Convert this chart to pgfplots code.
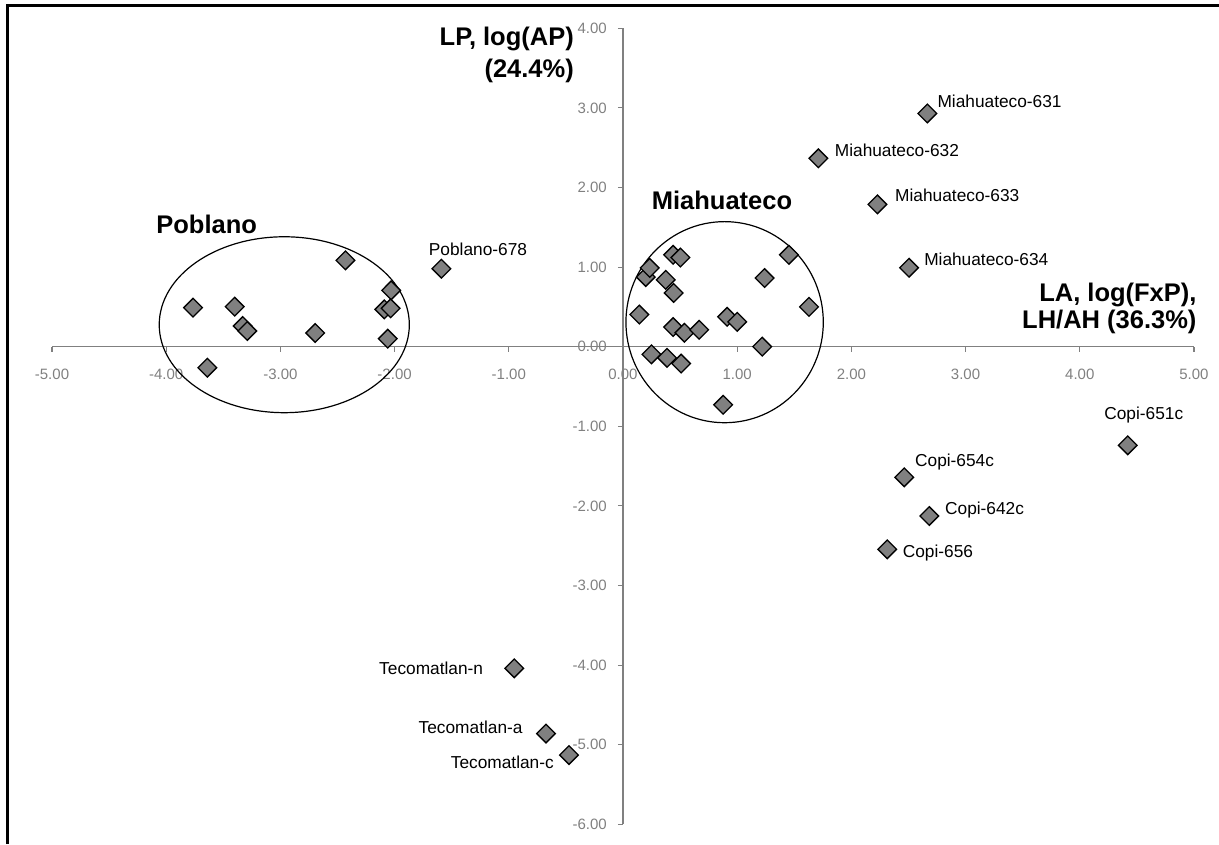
\documentclass[border=0pt]{standalone}
\usepackage{pgfplots}
\pgfplotsset{compat=1.18}
\usepackage{fontspec}
\setmainfont{Liberation Sans}
\definecolor{axisgray}{RGB}{128,128,128}
\definecolor{ticklab}{RGB}{128,128,128}
\definecolor{markgray}{RGB}{128,128,128}
\tikzset{lab/.style={font=\fontsize{17.3}{20}\selectfont, inner sep=0pt, text=black},
  big/.style={font=\bfseries\fontsize{25.5}{30}\selectfont, inner sep=0pt, text=black}}
\begin{document}
\begin{tikzpicture}
\path[use as bounding box] (0pt,0pt) rectangle (1219pt,844pt);
\draw[line width=2.6pt, black] (7.5pt,0pt) -- (7.5pt,838.5pt) -- (1219pt,838.5pt);
\begin{axis}[
  at={(52pt,19.7pt)}, anchor=south west,
  scale only axis, width=1142pt, height=796pt,
  xmin=-5, xmax=5, ymin=-6, ymax=4,
  enlargelimits=false, clip=false,
  axis lines=middle,
  axis line style={draw=axisgray, line width=1.3pt, -},
  hide obscured x ticks=false, hide obscured y ticks=false,
  xtick={-5,-4,-3,-2,-1,0,1,2,3,4,5},
  xticklabels={-5.00,-4.00,-3.00,-2.00,-1.00,0.00,1.00,2.00,3.00,4.00,5.00},
  ytick={-6,-5,-4,-3,-2,-1,0,1,2,3,4},
  yticklabels={-6.00,-5.00,-4.00,-3.00,-2.00,-1.00,0.00,1.00,2.00,3.00,4.00},
  tick align=outside, major tick length=5pt,
  tick style={draw=axisgray, line width=1.1pt},
  xticklabel style={font=\fontsize{15}{18}\selectfont, text=ticklab, anchor=center, inner sep=0pt, yshift=-23pt},
  yticklabel style={font=\fontsize{15}{18}\selectfont, text=ticklab, anchor=east, inner sep=0pt, xshift=-11pt},
]
\draw[black, line width=1.2pt] (axis cs:-2.966,0.276) ellipse [x radius=1.095, y radius=1.105];
\draw[black, line width=1.2pt] (axis cs:0.89,0.308) ellipse [x radius=0.864, y radius=1.263];
\addplot[only marks, mark=square*, mark size=6.6pt,
  mark options={rotate=45, fill=markgray, draw=black, line width=1.3pt}] coordinates {
(-3.765,0.49) (-3.40,0.503) (-3.33,0.26) (-3.29,0.197) (-3.64,-0.264) (-2.695,0.172)
(-2.43,1.085) (-2.03,0.708) (-2.09,0.469) (-2.035,0.482) (-2.06,0.10) (-1.59,0.98)
(0.143,0.404) (0.199,0.875) (0.234,0.99) (0.249,-0.096) (0.374,0.84) (0.386,-0.14)
(0.439,1.154) (0.503,1.12) (0.444,0.675) (0.439,0.246) (0.509,-0.2125) (0.538,0.175)
(0.667,0.2125) (0.912,0.375) (1.0,0.3125) (0.877,-0.73) (1.219,0.0) (1.24,0.8625)
(1.453,1.154) (1.629,0.5)
(2.665,2.93) (1.711,2.366) (2.228,1.788) (2.505,0.992)
(4.42,-1.239) (2.463,-1.641) (2.682,-2.127) (2.314,-2.545)
(-0.952,-4.04) (-0.674,-4.86) (-0.473,-5.13)
};
\node[lab, anchor=west, xshift=10pt, yshift=12.6pt] at (axis cs:2.665,2.93) {Miahuateco-631};
\node[lab, anchor=west, xshift=16.3pt, yshift=7.6pt] at (axis cs:1.711,2.366) {Miahuateco-632};
\node[lab, anchor=west, xshift=17.6pt, yshift=9.3pt] at (axis cs:2.228,1.788) {Miahuateco-633};
\node[lab, anchor=west, xshift=15pt, yshift=8.4pt] at (axis cs:2.505,0.992) {Miahuateco-634};
\node[lab, anchor=west, xshift=-12.7pt, yshift=19.3pt] at (axis cs:-1.59,0.98) {Poblano-678};
\node[lab, anchor=center, xshift=16pt, yshift=30pt] at (axis cs:4.42,-1.239) {Copi-651c};
\node[lab, anchor=west, xshift=10.7pt, yshift=15.6pt] at (axis cs:2.463,-1.641) {Copi-654c};
\node[lab, anchor=west, xshift=15.7pt, yshift=6pt] at (axis cs:2.682,-2.127) {Copi-642c};
\node[lab, anchor=west, xshift=15.4pt, yshift=-4pt] at (axis cs:2.314,-2.545) {Copi-656};
\node[lab, anchor=east, xshift=-31pt, yshift=0pt] at (axis cs:-0.952,-4.04) {Tecomatlan-n};
\node[lab, anchor=east, xshift=-23.3pt, yshift=6pt] at (axis cs:-0.674,-4.86) {Tecomatlan-a};
\node[lab, anchor=east, xshift=-15pt, yshift=-7.7pt] at (axis cs:-0.473,-5.13) {Tecomatlan-c};
\end{axis}
\node[big, anchor=base east] at (574pt,798pt) {LP, log(AP)};
\node[big, anchor=base east] at (574pt,766.5pt) {(24.4\%)};
\node[big, anchor=base east] at (1196.7pt,542.3pt) {LA, log(FxP),};
\node[big, anchor=base east] at (1196.7pt,515.2pt) {LH/AH (36.3\%)};
\node[big, anchor=base] at (206.7pt,610.7pt) {Poblano};
\node[big, anchor=base] at (722pt,634.7pt) {Miahuateco};
\end{tikzpicture}
\end{document}
